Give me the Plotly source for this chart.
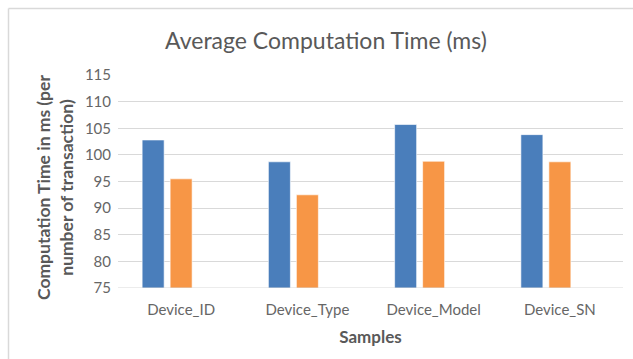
import plotly.graph_objects as go

categories = ["Device_ID", "Device_Type", "Device_Model", "Device_SN"]
series_blue = [102.8, 98.7, 105.7, 103.8]
series_orange = [95.5, 92.5, 98.8, 98.7]
series_empty = [None, None, None, None]
y_ticks = [75, 80, 85, 90, 95, 100, 105, 110, 115]

W, H = 633, 359
ML, MR, MT, MB = 118, 10, 75, 71
PW = W - ML - MR
PH = H - MT - MB

def px_x(p):
    return (p - ML) / PW

def px_y(p):
    return 1 - (p - MT) / PH

FONT = "Lato"

fig = go.Figure()
fig.add_trace(go.Bar(x=categories, y=series_blue, marker=dict(color="#4a7ebb", line=dict(color="rgba(255,255,255,0.6)", width=1)), showlegend=False))
fig.add_trace(go.Bar(x=categories, y=series_orange, marker=dict(color="#f79646", line=dict(color="rgba(255,255,255,0.6)", width=1)), showlegend=False))
fig.add_trace(go.Bar(x=categories, y=series_empty, marker=dict(color="#a5a5a5"), showlegend=False))

fig.update_layout(
    width=W, height=H,
    margin=dict(l=ML, r=MR, t=MT, b=MB),
    paper_bgcolor="white", plot_bgcolor="white",
    barmode="group", bargap=0.335, bargroupgap=0.214,
    font=dict(family=FONT, color="#595959"),
    title=dict(text="Average Computation Time (ms)", x=(326) / W, xanchor="center",
               y=1 - 41 / H, yanchor="middle",
               font=dict(family=FONT, size=23, color="#595959")),
    xaxis=dict(showgrid=False, showline=False, ticks="", tickfont=dict(size=15, color="#666666"),
               ticklabelstandoff=11,
               title=dict(text="<b>Samples</b>", font=dict(size=17, color="#595959"), standoff=14)),
    yaxis=dict(range=[75, 115], tickvals=y_ticks, ticktext=[str(v) for v in y_ticks],
               showgrid=True, gridcolor="#d9d9d9", gridwidth=1, zeroline=False, showline=False,
               ticks="", tickfont=dict(size=15, color="#666666"), ticklabelstandoff=6),
    annotations=[dict(text="<b>Computation Time in ms (per<br>number of transaction)</b>",
                      xref="paper", yref="paper", x=px_x(55), y=px_y(188),
                      xanchor="center", yanchor="middle", textangle=-90, showarrow=False,
                      font=dict(family=FONT, size=17.5, color="#595959"))],
    shapes=[
        dict(type="line", xref="paper", yref="paper", x0=px_x(8.5), x1=px_x(640), y0=px_y(8.5), y1=px_y(8.5),
             line=dict(color="#d9d9d9", width=1.5)),
        dict(type="line", xref="paper", yref="paper", x0=px_x(8.5), x1=px_x(8.5), y0=px_y(8.5), y1=px_y(370),
             line=dict(color="#d9d9d9", width=1.5)),
        dict(type="line", xref="paper", yref="y", x0=0, x1=1, y0=75, y1=75, line=dict(color="#d9d9d9", width=1)),
    ],
)

fig.write_html("out.html")
